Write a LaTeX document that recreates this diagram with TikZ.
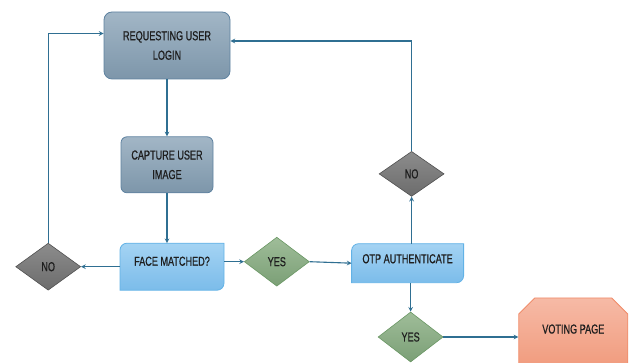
\documentclass[tikz,border=0pt]{standalone}
\usepackage{fontspec}
\setmainfont{Liberation Sans}[FakeStretch=0.7, FakeBold=0.6]
\usetikzlibrary{shapes.geometric, shapes.misc, arrows, positioning, calc, backgrounds}
\definecolor{flowline}{HTML}{2F6F92}
\definecolor{steeltop}{HTML}{A2B6C6}
\definecolor{steelbot}{HTML}{7D96AA}
\definecolor{steelline}{HTML}{5E82A0}
\definecolor{skytop}{HTML}{A4D3F3}
\definecolor{skybot}{HTML}{7BBCEA}
\definecolor{skyline}{HTML}{62B2E6}
\definecolor{greytop}{HTML}{8C8C8C}
\definecolor{greybot}{HTML}{6C6C6C}
\definecolor{greyline}{HTML}{505050}
\definecolor{greentop}{HTML}{9FBD99}
\definecolor{greenbot}{HTML}{7B9F76}
\definecolor{greenline}{HTML}{6A9764}
\definecolor{salmontop}{HTML}{F6BAA6}
\definecolor{salmonbot}{HTML}{F19B7D}
\definecolor{salmonline}{HTML}{F08C6A}
\definecolor{inktext}{HTML}{1E1E1E}

% tab shaped box: top left and bottom right corners rounded
\newcommand{\tabshape}[1]{%
  \shade[top color=skytop, bottom color=skybot, draw=skyline, line width=0.8pt]
    (#1.south west) -- ([yshift=-7pt]#1.north west)
    arc[start angle=180, end angle=90, radius=7pt]
    -- (#1.north east) -- ([yshift=7pt]#1.south east)
    arc[start angle=0, end angle=-90, radius=7pt] -- cycle;}

\begin{document}
\begin{tikzpicture}[x=1pt, y=1pt,
  font=\fontsize{13}{19.5}\selectfont, text=inktext,
  stepbox/.style={rectangle, rounded corners=8pt, draw=steelline, line width=0.8pt,
    top color=steeltop, bottom color=steelbot, align=center},
  tabbox/.style={rectangle, draw=none, outer sep=0pt, inner sep=0pt, text depth=11pt},
  nodiam/.style={diamond, draw=greyline, line width=0.6pt, top color=greytop, bottom color=greybot,
    inner sep=0pt, minimum width=65pt, minimum height=47pt},
  yesdiam/.style={diamond, draw=greenline, line width=0.6pt, top color=greentop, bottom color=greenbot,
    inner sep=0pt, minimum width=65pt, minimum height=49pt},
  arrow/.style={->, >=stealth, line width=1.1pt, color=flowline}
]
\useasboundingbox (0,0) rectangle (629,363);

\node[stepbox, minimum width=126pt, minimum height=67pt] (login) at (167,317.5) {REQUESTING USER\\LOGIN};
\node[stepbox, rounded corners=6pt, minimum width=92pt, minimum height=56pt, below=57pt of login] (capture) {CAPTURE USER\\IMAGE};
\node[tabbox, minimum width=104pt, minimum height=47pt, below=50pt of capture, xshift=5pt] (face) {FACE MATCHED?};
\node[nodiam, left=39pt of face] (nol) {NO};
\node[yesdiam, right=20pt of face, yshift=5pt] (yesf) {YES};
\node[tabbox, text depth=9pt, minimum width=112pt, minimum height=39pt, right=42pt of yesf, yshift=-1.5pt] (otp) {OTP AUTHENTICATE};
\node[nodiam, minimum height=45pt, above=47pt of otp, xshift=4pt] (nor) {NO};
\node[yesdiam, minimum height=50pt, below=29pt of otp, xshift=3pt] (yeso) {YES};
\node[chamfered rectangle, chamfered rectangle corners={north west, north east},
  chamfered rectangle xsep=8pt, chamfered rectangle ysep=8pt, draw=salmonline, line width=0.8pt,
  top color=salmontop, bottom color=salmonbot, inner sep=0pt, text depth=8pt,
  minimum width=109pt, minimum height=70pt, right=75pt of yeso, yshift=4pt] (vote) {VOTING PAGE};

\begin{scope}[on background layer]
  \tabshape{face}
  \tabshape{otp}
\end{scope}

\draw[arrow] (login.south) -- (capture.north);
\draw[arrow] (capture.south) -- (capture.south |- face.north);
\draw[arrow] (face.west) -- (nol.east);
\draw[arrow] (nol.north) |- ([yshift=12pt]login.west);
\draw[arrow] (face.east |- yesf.west) -- (yesf.west);
\draw[arrow] (yesf.east) -- (otp.west);
\draw[arrow] (otp.north -| nor) -- (nor.south);
\draw[arrow] (nor.north) |- ([yshift=4.5pt]login.east);
\draw[arrow] (otp.south -| yeso) -- (yeso.north);
\draw[arrow] (yeso.east) -- (yeso.east -| vote.west);
\end{tikzpicture}
\end{document}
